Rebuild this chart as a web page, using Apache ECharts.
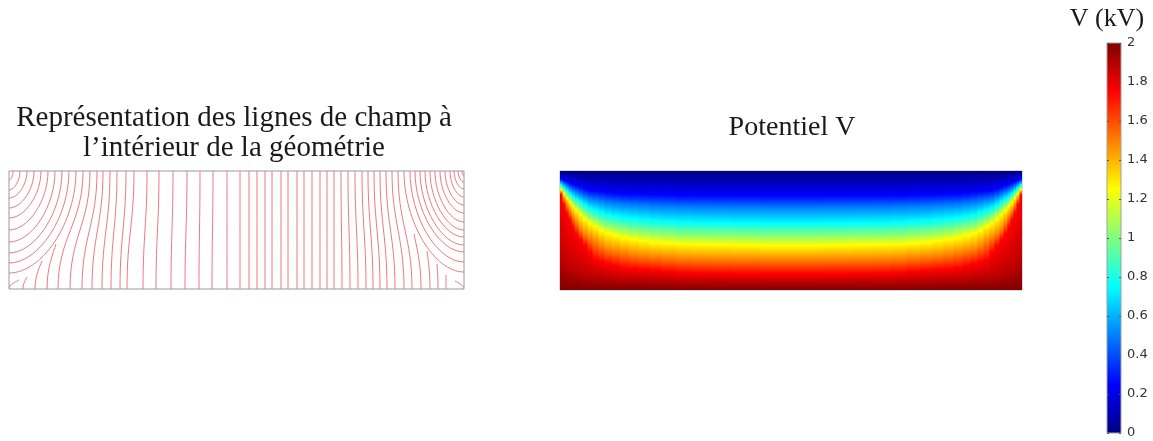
<!DOCTYPE html>
<html>
<head>
<meta charset="utf-8">
<script src="https://cdn.jsdelivr.net/npm/echarts@6/dist/echarts.min.js"></script>
<style>
html,body{margin:0;padding:0;background:#ffffff;}
#chart{width:1153px;height:441px;}
</style>
</head>
<body>
<div id="chart"></div>
<script>
// ================= DATA =================
// Field-line panel, geometry units: x 0..455 (left to right), y 0..118 (bottom to top)
const boxWidth = 455;
const boxHeight = 118;
// lines leaving the left wall: [depth below the top where they start, x where they reach the top]
const leftArcs = [[9,4],[19,11],[27,18],[37,25],[47,32],[59,39],[71,46],[82,53],[92,60],[102,67]];
// lines leaving the right wall: [depth below the top, x where they reach the top]
const rightArcs = [[5,453],[11,449],[18,445],[26,441],[34,436],[42,431],[51,426],[59,421],[66,416],[74,411],[81,406],[91,401],[101,395]];
// lines from the bottom to the top: [x at bottom, x at top]
const risers = [
  [49,74],[61,81],[73,88],[83,94],[93,101],[102,108],[111,117],[118,125],[134,138],[147,150],
  [162,164],[176,178],[190,191],[203,204],[218,218],
  [231,231],[240,240],[248,248],[256,256],[263,263],[272,272],[279,279],[288,288],[295,295],
  [303,303],[311,311],[318,318],[325,325],
  [333,332],[341,339],[349,346],[357,353],[364,359],[371,365],[378,371],[386,377],[395,383],[403,389]
];
// interrupted lines: [x at bottom, x at end, y at end]
const stubs = [[0,10,9],[14,18,12],[26,33,28],[38,47,45],[412,405,55],[421,418,38],[429,428,25],[437,437,14],[455,446,8]];

// Potential panel: half width 231 (symmetric about the centre), depth 0..118 from the top.
const halfWidth = 231;
const depthMax = 118;
// column edges, distance from the side wall
const columnEdges = [0,3,6,9,12,15,19,23,28,33,39,45,52,60,69,79,90,102,116,132,150,172,200,231];
// depth (below the top) at which V reaches each level, one value per column (wall -> centre)
const iso025  = [8.0,9.3,10.6,11.9,13.2,14.6,16.1,17.9,19.5,20.0,20.6,21.3,22.1,22.8,23.0,23.2,23.5,23.8,24.2,24.3,24.4,24.4,24.5];
const iso050  = [10.6,12.9,15.1,17.4,19.3,21.1,23.3,25.6,27.8,28.9,30.1,31.3,32.3,33.1,33.7,34.3,35.0,35.4,35.8,36.1,36.2,36.3,36.5];
const iso075  = [13.5,16.5,19.5,22.5,25.1,27.6,30.4,33.5,36.6,38.8,41.2,43.3,44.7,46.2,47.2,48.2,49.3,50.0,50.7,51.1,51.3,51.6,51.9];
const iso100  = [16.0,19.6,23.2,26.8,30.4,33.6,37.1,41.0,44.8,47.6,50.8,53.3,54.7,56.4,58.3,59.7,60.5,61.3,62.4,62.8,63.0,63.2,63.4];
const iso125  = [18.8,22.8,26.8,30.8,34.8,39.0,43.0,47.5,51.9,55.1,58.8,61.8,64.1,66.3,67.8,69.3,71.0,71.7,72.5,72.9,73.3,73.7,74.2];
const iso150  = [21.1,27.7,34.4,40.3,45.6,51.7,58.7,63.3,66.9,70.8,75.1,78.3,79.8,81.4,83.3,84.7,85.5,86.3,87.4,87.8,88.0,88.2,88.4];
const iso175  = [23.7,33.7,41.9,48.9,55.9,62.7,68.1,74.1,80.8,87.8,89.8,91.9,94.0,96.2,96.9,97.7,98.5,99.5,100.6,101.1,101.3,101.6,101.8];
const iso1875 = [85.9,89.1,92.3,95.3,96.9,98.7,100.9,103.1,103.6,104.3,105.0,105.7,106.6,107.1,107.4,107.7,108.0,108.4,108.9,109.1,109.2,109.3,109.5];
// jet colour map: [V (kV), colour]
const jetStops = [[0,'#00007f'],[0.25,'#0000ff'],[0.5,'#007fff'],[0.75,'#00ffff'],[1,'#7fff7f'],
                  [1.25,'#ffff00'],[1.5,'#ff7f00'],[1.75,'#ff0000'],[1.875,'#bf0000'],[2,'#7f0000']];
const colorbarRange = [0, 2];
const colorbarTicks = [0,0.2,0.4,0.6,0.8,1,1.2,1.4,1.6,1.8,2];

// ================= BUILD =================
const lineData = [];
leftArcs.forEach(a => lineData.push([0, a[0], a[1], 0]));
rightArcs.forEach(a => lineData.push([1, a[0], a[1], 0]));
risers.forEach(r => lineData.push([2, r[0], r[1], 0]));
stubs.forEach(s => lineData.push([3, s[0], s[1], s[2]]));

const isoLevels = [iso025, iso050, iso075, iso100, iso125, iso150, iso175, iso1875];
const potentialData = [];
for (let c = 0; c < columnEdges.length - 1; c++) {
  const depths = isoLevels.map(arr => arr[c]);
  potentialData.push([columnEdges[c], columnEdges[c + 1]].concat(depths));                              // left half
  potentialData.push([2 * halfWidth - columnEdges[c + 1], 2 * halfWidth - columnEdges[c]].concat(depths)); // right half (mirror)
}

const K = 0.5;
function renderLine(params, api) {
  const kind = api.value(0);
  const H = boxHeight, W = boxWidth;
  let p0, c1, c2, p3;
  if (kind === 0) {
    const d = api.value(1), a = api.value(2);
    p0 = [0, H - d]; c1 = [a * K, H - d]; c2 = [a, H - d * K]; p3 = [a, H];
  } else if (kind === 1) {
    const d = api.value(1), t = api.value(2), a = W - t;
    p0 = [W, H - d]; c1 = [W - a * K, H - d]; c2 = [t, H - d * K]; p3 = [t, H];
  } else if (kind === 2) {
    const b = api.value(1), t = api.value(2);
    p0 = [b, 0]; c1 = [b, H * 0.45]; c2 = [t, H * 0.55]; p3 = [t, H];
  } else {
    const b = api.value(1), xe = api.value(2), ye = api.value(3);
    p0 = [b, 0]; c1 = [b, ye * 0.5]; c2 = [xe - (xe - b) * 0.3, ye * 0.8]; p3 = [xe, ye];
  }
  const P0 = api.coord(p0), C1 = api.coord(c1), C2 = api.coord(c2), P3 = api.coord(p3);
  return {
    type: 'bezierCurve',
    shape: {x1: P0[0], y1: P0[1], x2: P3[0], y2: P3[1], cpx1: C1[0], cpy1: C1[1], cpx2: C2[0], cpy2: C2[1]},
    style: {stroke: '#ee7883', fill: 'none', lineWidth: 1}
  };
}

function renderPotential(params, api) {
  const x0 = api.value(0), x1 = api.value(1);
  const tl = api.coord([x0, 0]);
  const br = api.coord([x1, depthMax]);
  const stops = [{offset: 0, color: jetStops[0][1]}];
  for (let k = 0; k < isoLevels.length; k++) {
    stops.push({offset: Math.min(1, Math.max(0, api.value(k + 2) / depthMax)), color: jetStops[k + 1][1]});
  }
  stops.push({offset: 1, color: jetStops[jetStops.length - 1][1]});
  return {
    type: 'rect',
    shape: {x: tl[0] - 0.4, y: tl[1], width: br[0] - tl[0] + 0.8, height: br[1] - tl[1]},
    style: {fill: new echarts.graphic.LinearGradient(0, 0, 0, 1, stops)}
  };
}

function renderColorbar(params, api) {
  const top = api.coord([0, colorbarRange[1]]);
  const bot = api.coord([1, colorbarRange[0]]);
  const span = colorbarRange[1] - colorbarRange[0];
  const stops = jetStops.map(s => ({offset: (colorbarRange[1] - s[0]) / span, color: s[1]})).reverse();
  return {
    type: 'rect',
    shape: {x: top[0], y: top[1], width: bot[0] - top[0], height: bot[1] - top[1]},
    style: {fill: new echarts.graphic.LinearGradient(0, 0, 0, 1, stops), stroke: '#a0a0a0', lineWidth: 1}
  };
}

const serif = "'Liberation Serif', 'DejaVu Serif', serif";
const tickStyle = {show: true, inside: true, length: 2, lineStyle: {color: '#555', width: 1}, customValues: colorbarTicks};
const chart = echarts.init(document.getElementById('chart'), null, {renderer: 'canvas'});
chart.setOption({
  animation: false,
  backgroundColor: '#ffffff',
  title: [
    {text: 'Représentation des lignes de champ à\nl’intérieur de la géométrie', left: 234, top: 103, textAlign: 'center', padding: 0,
     textStyle: {fontFamily: serif, fontSize: 29, fontWeight: 'normal', color: '#1a1a1a', lineHeight: 30}},
    {text: 'Potentiel V', left: 792, top: 113, textAlign: 'center', padding: 0,
     textStyle: {fontFamily: serif, fontSize: 28, fontWeight: 'normal', color: '#1a1a1a', lineHeight: 30}},
    {text: 'V (kV)', left: 1107, top: 4, textAlign: 'center', padding: 0,
     textStyle: {fontFamily: serif, fontSize: 26, fontWeight: 'normal', color: '#1a1a1a', lineHeight: 30}}
  ],
  grid: [
    {left: 9, top: 171, width: 455, height: 118, show: true, borderColor: '#9a9a9a', borderWidth: 1, backgroundColor: '#ffffff'},
    {left: 560, top: 171, width: 462, height: 119, show: true, borderColor: '#b0b0b0', borderWidth: 1},
    {left: 1107, top: 43, width: 14, height: 390}
  ],
  xAxis: [
    {gridIndex: 0, type: 'value', min: 0, max: boxWidth, show: false},
    {gridIndex: 1, type: 'value', min: 0, max: 2 * halfWidth, show: false},
    {gridIndex: 2, type: 'value', min: 0, max: 1, show: false}
  ],
  yAxis: [
    {gridIndex: 0, type: 'value', min: 0, max: boxHeight, show: false},
    {gridIndex: 1, type: 'value', min: 0, max: depthMax, inverse: true, show: false},
    {gridIndex: 2, type: 'value', min: colorbarRange[0], max: colorbarRange[1], interval: 0.2, position: 'right',
     axisLine: {show: false, onZero: false},
     axisTick: tickStyle,
     axisLabel: {margin: 6, fontSize: 13, color: '#333', fontFamily: "'DejaVu Sans', sans-serif", customValues: colorbarTicks},
     splitLine: {show: false}, z: 10},
    {gridIndex: 2, type: 'value', min: colorbarRange[0], max: colorbarRange[1], interval: 0.2, position: 'left',
     axisLine: {show: false, onZero: false},
     axisTick: tickStyle,
     axisLabel: {show: false},
     splitLine: {show: false}, z: 10}
  ],
  series: [
    {type: 'custom', xAxisIndex: 0, yAxisIndex: 0, data: lineData, renderItem: renderLine, clip: true, silent: true},
    {type: 'custom', xAxisIndex: 1, yAxisIndex: 1, data: potentialData, renderItem: renderPotential, clip: true, silent: true, z: 1},
    {type: 'custom', xAxisIndex: 2, yAxisIndex: 2, data: [[0, 0]], renderItem: renderColorbar, silent: true, z: 1}
  ]
});
</script>
</body>
</html>
